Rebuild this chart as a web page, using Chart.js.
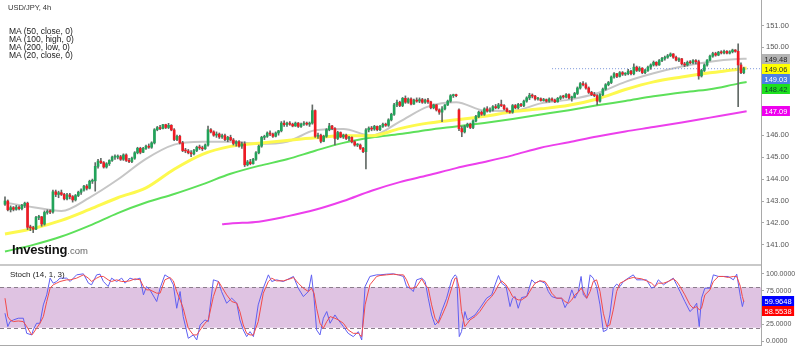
<!DOCTYPE html>
<html><head><meta charset="utf-8">
<script src="https://cdn.jsdelivr.net/npm/chart.js@4/dist/chart.umd.min.js"></script>
<style>
html,body{margin:0;padding:0;background:#fff;}
#wrap{position:relative;width:795px;height:357px;overflow:hidden;font-family:'Liberation Sans',Arial,sans-serif;background:#fff;}
#c1{position:absolute;left:0;top:0;}
#c2{position:absolute;left:0;top:264px;}
.t{position:absolute;white-space:nowrap;color:#222;}
</style></head><body>
<div id="wrap">
<canvas id="c1" width="795" height="264"></canvas>
<canvas id="c2" width="795" height="93"></canvas>
<div class="t" style="left:8px;top:4px;font-size:7.5px;line-height:8px;color:#333">USD/JPY, 4h</div>
<div class="t" style="left:9px;top:27px;font-size:8.5px;line-height:8px;color:#222">MA (50, close, 0)<br>MA (100, high, 0)<br>MA (200, low, 0)<br>MA (20, close, 0)</div>
<div class="t" style="left:12px;top:242px;line-height:14px;"><span style="font-size:13px;font-weight:bold;color:#111;letter-spacing:-0.2px">Investing</span><span style="font-size:9.5px;color:#666">.com</span></div>
<div class="t" style="left:10px;top:270px;font-size:8px;line-height:9px;color:#222">Stoch (14, 1, 3)</div>
</div>
<script>
// ---------- DATA ----------
const open = [
142.85,143.00,142.60,142.70,142.62,142.72,142.65,142.80,142.90,141.80,
141.78,141.72,142.25,142.28,141.95,142.48,142.52,142.50,143.42,143.30,
143.38,143.30,143.10,143.28,143.20,143.05,143.25,143.40,143.50,143.68,
143.58,143.90,143.92,144.58,144.82,144.75,144.55,144.70,144.85,145.00,
145.00,145.02,144.90,145.10,144.85,144.80,144.95,145.20,145.40,145.22,
145.40,145.50,145.45,145.65,146.25,146.35,146.30,146.48,146.35,146.45,
146.24,145.80,145.95,145.65,145.30,145.28,145.20,145.15,145.30,145.45,
145.42,145.38,145.55,146.25,146.15,146.00,146.05,145.92,145.98,145.80,
145.90,145.78,145.62,145.70,145.50,145.60,144.65,144.78,144.70,144.90,
145.20,145.50,145.90,145.95,146.10,146.05,145.95,146.10,146.20,146.55,
146.48,146.55,146.50,146.42,146.55,146.40,146.50,146.55,146.50,146.55,
147.12,145.95,146.00,145.72,145.95,146.25,146.42,146.30,145.85,146.12,
145.92,146.00,145.85,145.90,145.70,145.55,145.55,145.40,145.25,146.24,
146.32,146.28,146.40,146.25,146.40,146.50,146.45,146.70,146.95,147.38,
147.50,147.35,147.68,147.50,147.65,147.42,147.60,147.55,147.62,147.50,
147.60,147.52,147.25,147.38,147.15,147.05,147.20,147.38,147.55,147.80,
147.82,147.15,146.30,146.15,146.40,146.50,146.35,146.65,146.85,147.05,
146.95,147.20,147.10,147.15,147.30,147.25,147.38,147.35,147.20,147.08,
147.05,147.35,147.25,147.40,147.35,147.55,147.70,147.82,147.78,147.65,
147.66,147.58,147.62,147.55,147.65,147.60,147.52,147.68,147.75,147.74,
147.85,147.70,147.72,147.90,148.15,148.35,148.30,148.15,147.95,147.85,
147.80,147.55,147.85,148.10,148.30,148.40,148.65,148.80,148.68,148.85,
148.78,148.80,148.92,148.80,149.10,148.95,149.05,148.85,148.95,149.10,
149.20,149.32,149.20,149.40,149.50,149.55,149.62,149.70,149.55,149.42,
149.48,149.25,149.20,149.32,149.30,149.40,149.35,148.70,148.95,149.20,
149.42,149.60,149.72,149.65,149.78,149.75,149.82,149.74,149.80,149.88,
149.82,149.20,148.85];
const high = [
143.19,143.05,142.78,142.75,142.80,142.78,142.85,142.95,142.95,141.90,
141.85,142.30,142.35,142.30,142.55,142.60,142.60,143.50,143.50,143.45,
143.50,143.35,143.35,143.35,143.25,143.30,143.45,143.55,143.72,143.75,
143.95,144.00,144.75,144.90,144.95,144.80,144.75,144.88,145.05,145.10,
145.10,145.08,145.15,145.15,144.95,145.00,145.25,145.45,145.45,145.45,
145.55,145.60,145.70,146.30,146.40,146.45,146.50,146.50,146.54,146.48,
146.30,146.00,146.00,145.72,145.40,145.35,145.30,145.35,145.50,145.55,
145.50,145.60,146.42,146.30,146.20,146.15,146.10,146.05,146.05,145.95,
146.00,145.85,145.75,145.75,145.68,145.70,144.85,144.90,144.95,145.25,
145.55,145.95,146.00,146.15,146.20,146.10,146.15,146.22,146.62,146.65,
146.60,146.62,146.55,146.60,146.58,146.55,146.62,146.60,146.60,147.38,
147.15,146.10,146.05,146.00,146.30,146.54,146.45,146.35,146.18,146.15,
146.05,146.05,145.95,145.92,145.75,145.62,145.60,145.45,146.30,146.38,
146.40,146.45,146.42,146.45,146.55,146.55,146.75,147.00,147.45,147.60,
147.55,147.72,147.79,147.70,147.70,147.65,147.70,147.70,147.68,147.65,
147.68,147.55,147.42,147.40,147.20,147.30,147.40,147.60,147.85,147.87,
147.87,147.20,146.40,146.45,146.55,146.55,146.70,146.90,147.10,147.10,
147.25,147.30,147.25,147.35,147.40,147.45,147.60,147.40,147.25,147.12,
147.40,147.40,147.45,147.45,147.60,147.75,147.91,147.88,147.82,147.72,
147.70,147.68,147.65,147.70,147.70,147.65,147.72,147.80,147.82,147.90,
147.88,147.78,147.95,148.20,148.40,148.44,148.38,148.20,148.00,147.95,
147.85,147.90,148.15,148.35,148.45,148.70,148.85,148.82,148.90,148.90,
148.85,149.00,148.95,149.25,149.15,149.12,149.08,149.00,149.15,149.25,
149.38,149.35,149.45,149.55,149.60,149.68,149.75,149.72,149.60,149.52,
149.50,149.32,149.38,149.40,149.45,149.45,149.42,149.00,149.25,149.45,
149.65,149.78,149.78,149.82,149.85,149.88,149.86,149.85,149.92,149.90,
150.16,149.30,149.10];
const low = [
142.80,142.55,142.50,142.55,142.58,142.60,142.60,142.70,141.70,141.65,
141.56,141.70,142.15,141.85,141.90,142.40,142.42,142.45,143.20,143.15,
143.25,143.05,143.05,143.10,142.95,143.00,143.20,143.30,143.45,143.50,
143.55,143.80,143.45,144.50,144.70,144.50,144.50,144.62,144.80,144.90,
144.92,144.85,144.85,144.80,144.75,144.75,144.90,145.15,145.15,145.20,
145.35,145.40,145.40,145.60,146.20,146.25,146.28,146.30,146.30,146.20,
145.75,145.75,145.60,145.25,145.20,145.15,145.02,145.10,145.25,145.35,
145.30,145.35,145.50,146.10,145.95,145.90,145.85,145.85,145.75,145.70,
145.75,145.55,145.50,145.45,145.40,144.57,144.60,144.65,144.68,144.85,
145.15,145.45,145.80,145.90,145.98,145.90,145.92,146.00,146.15,146.40,
146.40,146.45,146.38,146.40,146.35,146.35,146.45,146.45,146.40,146.50,
145.90,145.85,145.65,145.70,145.90,146.20,146.25,145.56,145.80,145.88,
145.85,145.80,145.75,145.65,145.50,145.48,145.35,145.20,144.46,146.15,
146.20,146.22,146.20,146.20,146.35,146.40,146.40,146.65,146.90,147.30,
147.30,147.30,147.45,147.45,147.38,147.40,147.50,147.48,147.45,147.45,
147.45,147.20,147.20,147.10,146.95,146.62,147.15,147.35,147.50,147.72,
147.75,146.20,145.93,146.10,146.35,146.30,146.30,146.60,146.80,146.90,
146.90,147.05,147.05,147.10,147.20,147.20,147.30,147.15,147.05,147.00,
147.00,147.20,147.20,147.30,147.30,147.50,147.62,147.70,147.60,147.60,
147.55,147.55,147.50,147.50,147.55,147.48,147.50,147.62,147.68,147.70,
147.65,147.55,147.70,147.85,148.10,148.25,148.10,147.90,147.80,147.75,
147.38,147.50,147.80,148.05,148.25,148.35,148.60,148.62,148.65,148.72,
148.72,148.75,148.75,148.75,148.90,148.90,148.80,148.80,148.90,149.00,
149.15,149.15,149.18,149.35,149.42,149.50,149.58,149.50,149.38,149.35,
149.20,149.12,149.15,149.25,149.25,149.25,148.55,148.65,148.90,149.15,
149.38,149.55,149.60,149.62,149.70,149.70,149.70,149.70,149.75,149.78,
147.30,148.80,148.80];
const close = [
143.00,142.60,142.70,142.62,142.72,142.65,142.80,142.90,141.80,141.78,
141.72,142.25,142.28,141.95,142.48,142.52,142.50,143.42,143.30,143.38,
143.30,143.10,143.28,143.20,143.05,143.25,143.40,143.50,143.68,143.58,
143.90,143.92,144.58,144.82,144.75,144.55,144.70,144.85,145.00,145.00,
145.02,144.90,145.10,144.85,144.80,144.95,145.20,145.40,145.22,145.40,
145.50,145.45,145.65,146.25,146.35,146.30,146.48,146.35,146.45,146.24,
145.80,145.95,145.65,145.30,145.28,145.20,145.15,145.30,145.45,145.42,
145.38,145.55,146.25,146.15,146.00,146.05,145.92,145.98,145.80,145.90,
145.78,145.62,145.70,145.50,145.60,144.65,144.78,144.70,144.90,145.20,
145.50,145.90,145.95,146.10,146.05,145.95,146.10,146.20,146.55,146.48,
146.55,146.50,146.42,146.55,146.40,146.50,146.55,146.50,146.55,147.12,
145.95,146.00,145.72,145.95,146.25,146.42,146.30,145.85,146.12,145.92,
146.00,145.85,145.90,145.70,145.55,145.55,145.40,145.25,146.24,146.32,
146.28,146.40,146.25,146.40,146.50,146.45,146.70,146.95,147.38,147.50,
147.35,147.68,147.50,147.65,147.42,147.60,147.55,147.62,147.50,147.60,
147.52,147.25,147.38,147.15,147.05,147.20,147.38,147.55,147.80,147.82,
147.80,146.30,146.15,146.40,146.50,146.35,146.65,146.85,147.05,146.95,
147.20,147.10,147.15,147.30,147.25,147.38,147.35,147.20,147.08,147.05,
147.35,147.25,147.40,147.35,147.55,147.70,147.82,147.78,147.65,147.66,
147.58,147.62,147.55,147.65,147.60,147.52,147.68,147.75,147.74,147.85,
147.70,147.72,147.90,148.15,148.35,148.30,148.15,147.95,147.85,147.80,
147.55,147.85,148.10,148.30,148.40,148.65,148.80,148.68,148.85,148.78,
148.80,148.92,148.80,149.10,148.95,149.05,148.85,148.95,149.10,149.20,
149.32,149.20,149.40,149.50,149.55,149.62,149.70,149.55,149.42,149.48,
149.25,149.20,149.32,149.30,149.40,149.35,148.70,148.95,149.20,149.42,
149.60,149.72,149.65,149.78,149.75,149.82,149.74,149.80,149.88,149.82,
149.20,148.85,149.03];

// moving averages read at candle indexes
const maIdx = [0,10,20,30,40,50,60,70,80,90,100,110,120,130,140,150,160,170,180,190,200,210,220,230,240,250,260,263];
const ma20  = [142.93,142.72,142.55,143.16,143.98,144.92,145.57,145.70,145.70,145.60,145.70,146.22,146.28,145.98,146.62,147.30,147.50,147.12,147.10,147.45,147.62,147.91,148.43,148.82,149.13,149.35,149.47,149.48];
const ma50  = [141.50,141.75,142.12,142.62,143.15,143.60,144.45,145.13,145.49,145.63,145.76,145.88,145.97,145.97,146.30,146.55,146.70,146.86,147.07,147.20,147.36,147.65,148.08,148.43,148.65,148.84,149.00,149.06];
const ma100 = [140.70,141.00,141.38,141.88,142.45,142.93,143.32,143.76,144.24,144.60,144.90,145.29,145.65,145.89,146.05,146.24,146.40,146.56,146.74,146.94,147.14,147.36,147.56,147.77,147.95,148.09,148.35,148.42];
const ma200Idx = [77,80,90,100,110,120,130,140,150,160,170,180,190,200,210,220,230,240,250,260,263];
const ma200 = [141.94,141.98,142.06,142.30,142.60,143.00,143.47,143.86,144.17,144.50,144.78,145.08,145.43,145.68,145.94,146.17,146.37,146.58,146.80,147.02,147.09];

// stochastic (14,1,3) read at candle indexes
const stochIdx = [
0,1,1.8,3,4.7,6.5,7.7,9.5,10,11.2,
12.4,13.6,14.8,16,17.1,18.3,19.5,21.9,23.1,25.4,
27.8,29.6,30.7,32.5,33.7,34.9,36.6,37.8,39.6,41.4,
42.6,44.3,46.1,47.9,49.1,50.2,51.4,53.8,55,56.7,
58.5,59.7,60.9,62.1,63.2,65,66.8,68,69.2,70.9,
72.1,73.9,75.7,76.8,78.6,80.4,82.2,83.3,84.5,85.7,
86.9,88.1,89.8,91.6,93.4,94.6,96.3,98.7,101.1,102.3,
104,105.8,107.6,108.7,109.6,110.5,111.7,112.9,114.1,115.3,
117,118.2,120,121.7,123.5,125.3,126.5,127.7,129.4,131.8,
133,135.3,137.7,139.5,141.3,142.4,143.6,144.8,146,147.8,
149,150.1,151.3,152.5,153.7,154.8,156.6,158.4,159.6,160.2,
161.1,161.9,163.1,164,164.9,166.7,168.4,170.8,172.6,173.8,
175,176.1,177.7,179.1,180,180.9,182,183.2,185,186.8,
188,189.7,191.5,192.7,193.9,195.6,197.4,198.6,199.8,201,
202.1,203.3,204.3,205.1,206.3,207.5,208.6,209.8,211,212.2,
213.4,214.5,215.7,216.9,218.1,219.3,221,222.8,224,225.8,
227.5,229.3,230.5,231.7,233.5,235.2,237,238.2,239.4,241.1,
242.9,244.1,245.3,246.2,247,248.2,250,251.2,253,254.7,
256.5,258.3,259.5,260.8,261.5,262];
const stochK = [
41.5,21.7,29.1,31.6,34.1,34.1,11.7,9.3,16.7,26.6,
26.6,53.9,68.8,93.6,86.1,88.6,93.6,93.6,88.6,98.5,
100,86.1,83.7,98.5,99.5,88.6,81.2,93.6,88.6,93.6,
86.1,93.6,91.1,93.6,68.8,81.2,76.2,58.9,78.7,98.5,
93.6,83.7,48.9,73.7,36.5,4.3,9.3,1.8,24.1,31.6,
29.1,91.1,88.6,73.7,56.4,63.8,56.4,31.6,16.7,6.8,
14.2,6.8,53.9,78.7,98.5,88.6,91.1,88.6,93.6,96.1,
78.7,66.3,73.7,98.5,63.8,16.7,9.3,34.1,44.0,26.6,
39.0,31.6,21.7,11.7,6.8,14.2,1.8,81.2,96.1,98.5,
98.5,99.5,100,98.5,96.1,81.2,78.7,73.7,91.1,93.6,
88.6,63.8,39.0,24.1,29.1,44.0,63.8,91.1,98.5,96.1,
6.8,14.2,44.0,31.6,34.1,39.0,48.9,63.8,68.8,83.7,
97.5,86.1,81.2,51.4,63.8,66.3,48.9,64.8,66.3,91.1,
86.1,89.6,86.1,73.7,66.3,63.8,63.8,49.9,58.9,76.2,
63.8,73.7,96.1,68.8,63.8,98.5,93.6,81.2,53.9,14.2,
16.7,39.0,78.7,84.7,81.2,88.6,93.6,98.5,91.1,91.1,
91.1,78.7,81.2,91.1,83.7,88.6,93.6,83.7,73.7,58.9,
44.0,48.9,56.4,21.7,63.8,78.7,78.7,98.5,96.1,96.1,
96.1,91.1,99.5,66.3,51.4,59.9648];
const stochD = [
63.8,36.5,31.6,29.1,30.0,29.1,21.7,9.3,11.7,19.2,
26.6,36.5,58.9,78.7,83.7,86.1,88.6,91.1,91.1,93.6,
98.5,93.6,88.6,93.6,96.1,96.1,91.1,88.6,91.1,88.6,
88.6,89.6,92.6,91.1,81.2,76.2,76.2,71.3,71.3,91.1,
94.6,89.6,73.7,61.3,48.9,19.2,9.3,9.3,16.7,26.6,
31.6,66.3,88.6,81.2,68.8,58.9,56.4,44.0,24.1,11.7,
9.3,9.3,29.1,71.3,88.6,93.6,89.6,89.6,92.6,94.6,
86.1,78.7,73.7,78.7,71.3,48.9,26.6,19.2,29.1,36.5,
34.1,31.6,26.6,16.7,11.7,11.7,6.8,53.9,83.7,96.1,
97.5,98.5,99.5,98.5,98.5,91.1,78.7,78.7,81.2,92.6,
83.7,78.7,53.9,34.1,26.6,36.5,53.9,78.7,93.6,93.6,
78.7,44.0,21.7,26.6,31.6,36.5,44.0,58.9,66.3,73.7,
83.7,89.6,83.7,73.7,66.3,63.8,61.3,61.3,66.3,78.7,
86.1,89.6,88.6,81.2,71.3,63.8,63.8,58.9,56.4,61.3,
68.8,72.7,78.7,73.7,63.8,73.7,88.6,91.1,73.7,41.5,
21.7,24.1,46.5,73.7,86.1,88.6,92.6,94.6,93.6,92.6,
89.6,86.1,81.2,86.1,86.1,88.6,92.6,88.6,81.2,68.8,
53.9,48.9,51.4,46.5,48.9,68.8,76.2,88.6,96.1,96.1,
94.6,96.1,96.1,81.2,66.3,58.5538];

// axis ticks / labels
const priceTicks = [141,142,143,144,145,146,147,148,149,150,151];
const stochTicks = [0,25,50,75,100];
const dayTicks  = [6,24,42,60,78,96,126,144,162,180,198,216,234,252];
const dayLabels = ['4','9','13','17','22','25','Sep','6','10','14','19','22','27','Oct'];
const priceLineFrom = 194;

// ---------- CHARTS ----------
const FONT = "'Liberation Sans', Arial, sans-serif";
Chart.defaults.font.family = FONT;
const xMin = -1.77, xMax = 268.1;
const last = close.length - 1;
const pts = (idx, vals) => vals.map((v, k) => ({x: idx[k], y: v}));
const candleIdx = close.map((_, i) => i);
const upColor = '#22a35a', downColor = '#ee1b24', wickColor = '#626a66';

function boxPlugin(items, digits) {
  return {
    id: 'boxes',
    afterDraw(chart) {
      const ys = chart.scales.y, ctx = chart.ctx, h = 10;
      const list = items.map(it => ({...it, py: ys.getPixelForValue(it.v)})).sort((a, b) => a.py - b.py);
      let prev = -1e9;
      ctx.save();
      ctx.font = '7.5px ' + FONT;
      ctx.textBaseline = 'middle';
      list.forEach(it => {
        const y = Math.max(it.py, prev + h); prev = y;
        const txt = it.v.toFixed(digits);
        const w = ctx.measureText(txt).width + 5;
        ctx.fillStyle = it.bg;
        ctx.fillRect(ys.left + 1, Math.round(y - h / 2), w, h);
        ctx.fillStyle = it.fg;
        ctx.fillText(txt, ys.left + 3.5, Math.round(y - h / 2) + h / 2 + 0.5);
      });
      ctx.restore();
    }
  };
}

const yAxisCommon = {
  type: 'linear', position: 'right',
  border: {display: true, color: '#a9a9a9'},
  grid: {display: true, drawOnChartArea: false, drawTicks: true, tickLength: 3, color: '#a9a9a9'},
};

new Chart(document.getElementById('c1'), {
  type: 'bar',
  data: {datasets: [
    {type: 'line', data: pts(maIdx, ma20), borderColor: '#c6c6c6', borderWidth: 2, pointRadius: 0, cubicInterpolationMode: 'monotone', order: 10},
    {type: 'line', data: pts(maIdx, ma50), borderColor: '#fdf94e', borderWidth: 3, pointRadius: 0, cubicInterpolationMode: 'monotone', order: 9},
    {type: 'line', data: pts(maIdx, ma100), borderColor: '#5de05a', borderWidth: 2, pointRadius: 0, cubicInterpolationMode: 'monotone', order: 9},
    {type: 'line', data: pts(ma200Idx, ma200), borderColor: '#ec3fec', borderWidth: 2, pointRadius: 0, cubicInterpolationMode: 'monotone', order: 9},
    {type: 'line', data: [{x: priceLineFrom, y: close[last]}, {x: xMax, y: close[last]}], borderColor: '#7b96da', borderWidth: 1, borderDash: [1, 2], pointRadius: 0, order: 8},
    {type: 'bar', data: candleIdx.map(i => ({x: i, y: [low[i], high[i]]})), backgroundColor: wickColor, barThickness: 1, grouped: false, order: 2},
    {type: 'bar', data: candleIdx.map(i => ({x: i, y: [open[i], close[i]]})), backgroundColor: candleIdx.map(i => close[i] >= open[i] ? upColor : downColor), barThickness: 2, minBarLength: 1, grouped: false, order: 1},
  ]},
  options: {
    responsive: false, animation: false, events: [],
    layout: {padding: 0},
    plugins: {legend: {display: false}, tooltip: {enabled: false}},
    scales: {
      x: {type: 'linear', min: xMin, max: xMax, display: false, offset: false},
      y: Object.assign({}, yAxisCommon, {
        min: 140.13, max: 152.16,
        afterBuildTicks: s => { s.ticks = priceTicks.map(v => ({value: v})); },
        afterFit: s => { s.width = 34; s.paddingTop = 0; s.paddingBottom = 0; },
        ticks: {padding: 2, color: '#555', font: {size: 7.5}, callback: v => Number(v).toFixed(2)}
      })
    }
  },
  plugins: [boxPlugin([
    {v: ma20[ma20.length - 1], bg: '#b3b3b3', fg: '#222'},
    {v: ma50[ma50.length - 1], bg: '#ffff00', fg: '#333'},
    {v: close[last], bg: '#4c7fe6', fg: '#fff'},
    {v: ma100[ma100.length - 1], bg: '#1ee01e', fg: '#143'},
    {v: ma200[ma200.length - 1], bg: '#ee00ee', fg: '#fff'},
  ], 2)]
});

const bandPlugin = {
  id: 'band',
  beforeDatasetsDraw(chart) {
    const {ctx, chartArea: a} = chart, ys = chart.scales.y;
    const y80 = ys.getPixelForValue(80), y20 = ys.getPixelForValue(20);
    ctx.save();
    ctx.fillStyle = '#dfc3e2';
    ctx.fillRect(a.left, y80, a.right - a.left, y20 - y80);
    ctx.strokeStyle = '#8b7d8c'; ctx.lineWidth = 1; ctx.setLineDash([4, 3]);
    [y80, y20].forEach(y => { ctx.beginPath(); ctx.moveTo(a.left, Math.round(y) + 0.5); ctx.lineTo(a.right, Math.round(y) + 0.5); ctx.stroke(); });
    ctx.setLineDash([]);
    ctx.fillStyle = '#c9c9c9';
    ctx.fillRect(a.left, 0, a.right - a.left, 2);
    ctx.restore();
  }
};

new Chart(document.getElementById('c2'), {
  type: 'line',
  data: {datasets: [
    {data: pts(stochIdx, stochK), borderColor: '#5f5ff2', borderWidth: 1, pointRadius: 0, order: 2},
    {data: pts(stochIdx, stochD), borderColor: '#f24b4b', borderWidth: 1, pointRadius: 0, order: 1},
  ]},
  options: {
    responsive: false, animation: false, events: [],
    layout: {padding: 0},
    plugins: {legend: {display: false}, tooltip: {enabled: false}},
    scales: {
      x: {
        type: 'linear', min: xMin, max: xMax, offset: false,
        border: {display: true, color: '#a9a9a9'},
        grid: {display: false},
        afterBuildTicks: s => { s.ticks = dayTicks.map(v => ({value: v})); },
        afterFit: s => { s.height = 12; s.paddingLeft = 0; s.paddingRight = 0; },
        ticks: {autoSkip: false, maxRotation: 0, padding: 2, color: '#555', font: {size: 8}, callback: v => dayLabels[dayTicks.indexOf(v)]}
      },
      y: Object.assign({}, yAxisCommon, {
        min: -5.65, max: 114.6,
        afterBuildTicks: s => { s.ticks = stochTicks.map(v => ({value: v})); },
        afterFit: s => { s.width = 34; s.paddingTop = 0; s.paddingBottom = 0; },
        ticks: {padding: 2, color: '#555', font: {size: 7}, callback: v => Number(v).toFixed(4)}
      })
    }
  },
  plugins: [bandPlugin, boxPlugin([
    {v: stochK[stochK.length - 1], bg: '#0000ff', fg: '#fff'},
    {v: stochD[stochD.length - 1], bg: '#ff0000', fg: '#fff'},
  ], 4)]
});
</script>
</body></html>
